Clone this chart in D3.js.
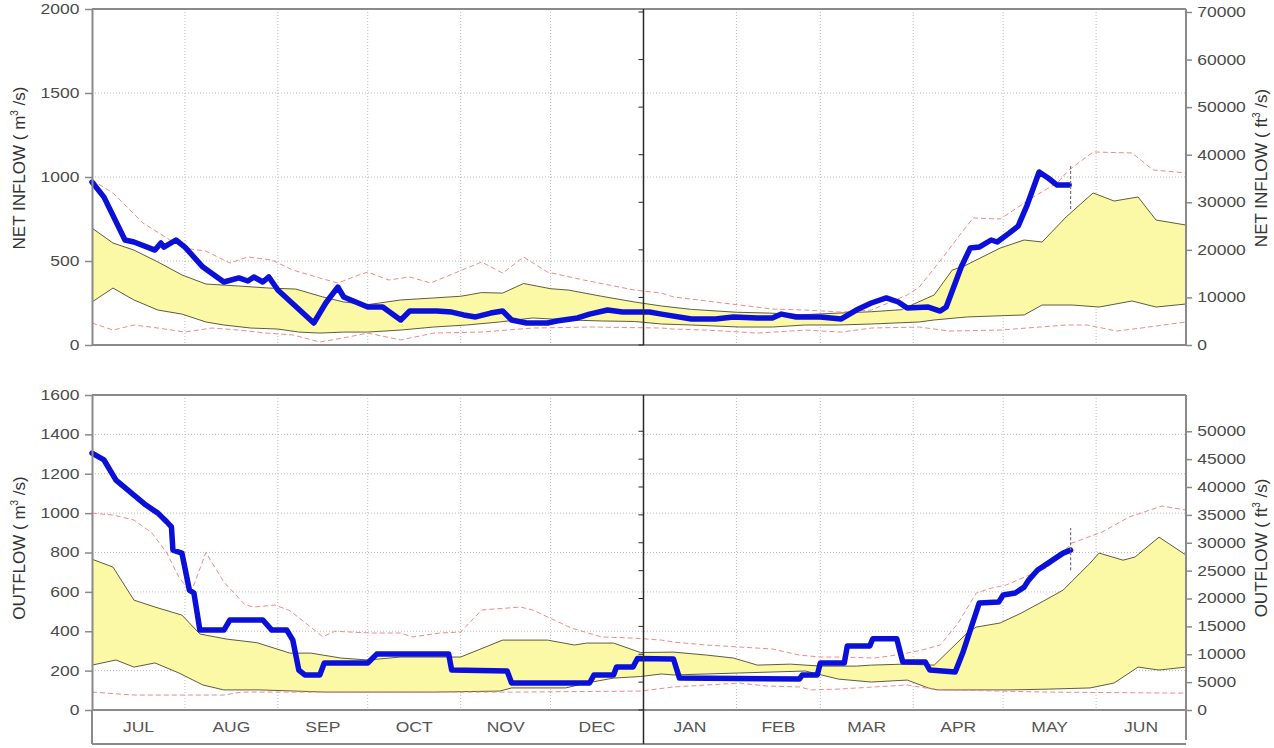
<!DOCTYPE html>
<html><head><meta charset="utf-8">
<script src="https://cdn.jsdelivr.net/npm/d3@7"></script>
<style>
body{margin:0;background:#fff;}
svg{display:block;font-family:"Liberation Sans",Arial,sans-serif;}
</style>
</head><body>
<svg id="c" width="1274" height="748"></svg>
<script>
// ---------- DATA (x = days since season start, 1 July) ----------
const seasonStartYear = 2022;
const monthLabels = ["JUL","AUG","SEP","OCT","NOV","DEC","JAN","FEB","MAR","APR","MAY","JUN"];
const todayDay = 326.5;
const m3ToFt3 = 35.3147;

const inflowTicksM3 = [0,500,1000,1500,2000];
const inflowTicksFt3 = [0,10000,20000,30000,40000,50000,60000,70000];
const outflowTicksM3 = [0,200,400,600,800,1000,1200,1400,1600];
const outflowTicksFt3 = [0,5000,10000,15000,20000,25000,30000,35000,40000,45000,50000];

// NET INFLOW (m3/s)
const inflowCurrent = [[0,970],[4,880],[11,625],[14,613],[21,565],[23,607],[24,583],[28,625],[31,583],[37,464],[44,375],[49,399],[52,381],[54,405],[57,375],[59,405],[62,327],[74,131],[78,250],[82,345],[84,286],[92,226],[97,226],[103,149],[106,202],[115,202],[120,196],[124,179],[128,167],[133,190],[137,202],[140,149],[145,131],[152,131],[155,143],[162,161],[166,184],[172,208],[177,196],[186,196],[190,184],[200,155],[208,155],[214,167],[222,161],[227,161],[230,184],[235,167],[243,167],[250,155],[255,208],[260,250],[265,280],[269,256],[272,220],[279,226],[283,202],[285,226],[290,464],[293,577],[296,583],[300,625],[302,613],[306,666],[309,708],[312,833],[316,1030],[319,994],[322,952],[326,952]];
const inflowBandUpper = [[0,696],[7,607],[14,565],[22,494],[30,417],[38,363],[49,351],[59,339],[68,333],[77,286],[84,256],[92,240],[103,268],[114,280],[123,290],[130,312],[137,309],[144,366],[153,335],[159,327],[170,290],[181,256],[190,232],[200,212],[215,195],[226,190],[237,180],[249,190],[260,198],[270,210],[281,298],[287,446],[291,470],[303,577],[311,625],[317,613],[325,762],[334,905],[341,857],[349,881],[355,744],[365,714]];
const inflowBandLower = [[0,256],[7,339],[14,268],[22,208],[30,184],[38,137],[44,119],[53,101],[62,95],[69,77],[76,71],[84,77],[92,77],[103,89],[114,107],[125,119],[136,137],[147,161],[159,149],[170,143],[181,140],[190,125],[200,119],[216,107],[227,107],[238,119],[249,119],[260,125],[276,137],[281,149],[292,167],[311,179],[317,238],[327,238],[336,226],[347,262],[355,226],[365,244]];
const inflowMax = [[0,982],[7,905],[17,726],[26,625],[33,571],[38,559],[46,488],[52,524],[60,506],[67,446],[76,399],[82,369],[89,417],[92,434],[99,387],[106,405],[113,369],[130,494],[137,428],[144,524],[152,434],[164,387],[181,327],[190,309],[194,286],[205,262],[216,238],[227,214],[238,208],[250,196],[260,208],[272,298],[276,345],[284,524],[290,666],[294,756],[303,750],[309,821],[314,881],[322,964],[326,1042],[334,1149],[347,1143],[354,1042],[365,1024]];
const inflowMin = [[0,131],[7,89],[14,119],[22,101],[31,77],[40,101],[49,89],[58,71],[67,60],[76,18],[84,42],[92,71],[103,30],[114,71],[130,77],[147,101],[167,107],[190,101],[194,95],[205,89],[222,71],[238,89],[250,77],[260,101],[276,107],[286,83],[303,89],[325,119],[332,119],[342,83],[350,101],[365,137]];

// OUTFLOW (m3/s)
const outflowCurrent = [[0,1305],[4,1270],[8,1168],[14,1092],[18,1041],[22,1000],[25,955],[26.5,930],[27,812],[30,797],[32.5,609],[34,594],[36,406],[44,406],[46,457],[57,457],[60,406],[65,406],[67,355],[69,203],[71,178],[76,178],[77.5,239],[92,239],[95,284],[119,284],[120,203],[138.5,198],[140,137],[166,137],[167.5,178],[174,178],[175,218],[180.5,218],[182,262],[194,259],[196,162],[236,157],[237,178],[242,178],[243,239],[251,239],[252,325],[259.5,325],[260.5,362],[268.5,362],[270.5,244],[278,244],[279.5,203],[288,193],[290.5,289],[296,543],[302.5,548],[304,584],[308,594],[311,624],[312.5,660],[315.5,711],[319,746],[324,797],[326.5,812]];
const outflowBandUpper = [[0,766],[7,726],[14,558],[21,523],[30,482],[36,386],[45,360],[55,342],[66,289],[73,289],[83,264],[92,254],[103,269],[123,269],[137,355],[152,355],[161,330],[165,340],[174,340],[183,292],[194,294],[205,279],[214,264],[222,228],[233,233],[243,223],[255,223],[260,228],[271,233],[281,228],[292,391],[295,421],[303,442],[310,492],[318,558],[324,609],[333,746],[336,797],[344,761],[348,777],[356,878],[365,787]];
const outflowBandLower = [[0,228],[8,254],[14,218],[21,239],[29,188],[37,127],[44,102],[56,102],[78,91],[114,91],[136,96],[140,112],[158,112],[165,137],[174,162],[183,170],[190,183],[194,178],[216,188],[227,193],[238,198],[249,157],[260,142],[272,152],[279,112],[282,102],[306,102],[319,106],[333,112],[341,137],[349,218],[356,203],[365,218]];
const outflowMax = [[0,1000],[7,990],[14,965],[20,899],[25,797],[29,675],[33,594],[38,800],[44,650],[51,535],[54,523],[61,533],[66,505],[71,445],[77,372],[81,400],[93,391],[103,391],[107,371],[116,391],[123,396],[130,508],[143,523],[147,508],[160,416],[170,371],[181,365],[190,355],[194,345],[205,330],[216,320],[227,310],[236,279],[243,269],[250,269],[261,264],[266,274],[272,289],[277,305],[283,330],[289,442],[295,594],[300,619],[305,635],[319,726],[327,848],[337,904],[346,980],[357,1036],[365,1016]];
const outflowMin = [[0,91],[14,76],[44,76],[50,91],[114,91],[140,91],[183,96],[194,117],[205,127],[216,137],[225,122],[236,117],[240,102],[250,107],[261,117],[272,127],[280,107],[285,102],[319,91],[360,86],[365,86]];

// ---------- CHART ----------
const svg = d3.select("#c");
const startMs = Date.UTC(seasonStartYear, 6, 1);
const toDate = d => new Date(startMs + d * 86400000);
const X0 = 92, X1 = 1186;
const x = d3.scaleUtc().domain([toDate(0), toDate(365)]).range([X0, X1]);
const monthStarts = d3.utcMonth.range(toDate(0), toDate(366));
const fmt = d3.format("d");
const STRETCH = "scale(1.25,1)";

const panels = [
  {top: 9, bottom: 345, max: 2000, ticks: inflowTicksM3, ftTicks: inflowTicksFt3,
   cur: inflowCurrent, up: inflowBandUpper, lo: inflowBandLower, mx: inflowMax, mn: inflowMin,
   labelL: "NET INFLOW ( m", labelR: "NET INFLOW ( ft", labelY: 168, todayRange: [810, 1075], strip: false},
  {top: 395, bottom: 710, max: 1600, ticks: outflowTicksM3, ftTicks: outflowTicksFt3,
   cur: outflowCurrent, up: outflowBandUpper, lo: outflowBandLower, mx: outflowMax, mn: outflowMin,
   labelL: "OUTFLOW ( m", labelR: "OUTFLOW ( ft", labelY: 548, todayRange: [710, 925], strip: true}
];

panels.forEach(p => {
  const y = d3.scaleLinear().domain([0, p.max]).range([p.bottom, p.top]);
  const yFt = d3.scaleLinear().domain([0, p.max * m3ToFt3]).range([p.bottom, p.top]);
  const g = svg.append("g");
  const line = d3.line().x(d => x(toDate(d[0]))).y(d => y(d[1]));

  // grid
  g.append("g").selectAll("line").data(p.ticks.filter(t => t > 0 && t < p.max)).join("line")
    .attr("x1", X0).attr("x2", X1).attr("y1", d => y(d)).attr("y2", d => y(d))
    .attr("stroke", "#bdbdbd").attr("stroke-width", 1).attr("stroke-dasharray", "1,2");
  g.append("g").selectAll("line").data(monthStarts.slice(1, -1)).join("line")
    .attr("x1", d => x(d)).attr("x2", d => x(d)).attr("y1", p.top).attr("y2", p.bottom)
    .attr("stroke", "#bdbdbd").attr("stroke-width", 1).attr("stroke-dasharray", "1,2");

  // band
  const bandPts = p.up.concat(p.lo.slice().reverse());
  g.append("path").attr("d", line(bandPts) + "Z").attr("fill", "#fbf8a6").attr("stroke", "none");
  [p.up, p.lo].forEach(s => g.append("path").attr("d", line(s)).attr("fill", "none")
    .attr("stroke", "#5d5d3e").attr("stroke-width", 1));
  // min / max
  [p.mx, p.mn].forEach(s => g.append("path").attr("d", line(s)).attr("fill", "none")
    .attr("stroke", "#f08a8a").attr("stroke-width", 1).attr("stroke-dasharray", "5,3"));
  // current
  g.append("path").attr("d", line(p.cur)).attr("fill", "none")
    .attr("stroke", "#0b10d8").attr("stroke-width", 5.5).attr("stroke-linejoin", "round").attr("stroke-linecap", "round");
  // today marker
  g.append("line").attr("x1", x(toDate(todayDay))).attr("x2", x(toDate(todayDay)))
    .attr("y1", y(p.todayRange[0])).attr("y2", y(p.todayRange[1]))
    .attr("stroke", "#7a6f90").attr("stroke-width", 1.2).attr("stroke-dasharray", "3,2");

  // frame
  const stripBottom = p.strip ? 744 : p.bottom;
  g.append("line").attr("x1", X0).attr("x2", X1).attr("y1", p.top).attr("y2", p.top).attr("stroke", "#8a8a8a").attr("stroke-width", 2);
  g.append("line").attr("x1", X0).attr("x2", X1).attr("y1", p.bottom).attr("y2", p.bottom).attr("stroke", "#8a8a8a").attr("stroke-width", 2);
  g.append("line").attr("x1", X1).attr("x2", X1).attr("y1", p.top).attr("y2", p.strip ? 740 : p.bottom).attr("stroke", "#8a8a8a").attr("stroke-width", 2);
  if (p.strip) {
    g.append("line").attr("x1", X0).attr("x2", X1).attr("y1", stripBottom).attr("y2", stripBottom).attr("stroke", "#8a8a8a").attr("stroke-width", 2);
  }
  // divider at 1 Jan with inward ft3 ticks
  const xJan = x(monthStarts[6]);
  g.append("line").attr("x1", xJan).attr("x2", xJan).attr("y1", p.top).attr("y2", stripBottom).attr("stroke", "#2a2a2a").attr("stroke-width", 1.5);
  g.append("g").selectAll("line").data(p.ftTicks).join("line")
    .attr("x1", xJan - 5).attr("x2", xJan).attr("y1", d => yFt(d)).attr("y2", d => yFt(d))
    .attr("stroke", "#2a2a2a").attr("stroke-width", 1);

  // left axis
  const axL = g.append("g").attr("transform", `translate(${X0},0)`)
    .call(d3.axisLeft(y).tickValues(p.ticks).tickFormat(fmt).tickSize(7).tickSizeOuter(0).tickPadding(3));
  axL.select(".domain").attr("stroke", "#8a8a8a").attr("stroke-width", 2);
  if (p.strip) axL.append("line").attr("x1", 0).attr("x2", 0).attr("y1", p.bottom).attr("y2", stripBottom).attr("stroke", "#8a8a8a").attr("stroke-width", 2);
  axL.selectAll(".tick line").attr("stroke", "#8a8a8a").attr("stroke-width", 1.5);
  axL.selectAll(".tick text").attr("font-size", 14).attr("fill", "#4a4a4a").attr("font-family", "Liberation Sans, Arial").attr("transform", STRETCH);

  // right axis (ft3/s)
  const axR = g.append("g").attr("transform", `translate(${X1},0)`)
    .call(d3.axisRight(yFt).tickValues(p.ftTicks).tickFormat(fmt).tickSize(6).tickSizeOuter(0).tickPadding(3));
  axR.select(".domain").remove();
  axR.selectAll(".tick line").attr("stroke", "#8a8a8a").attr("stroke-width", 1.5);
  axR.selectAll(".tick text").attr("font-size", 14).attr("fill", "#4a4a4a").attr("font-family", "Liberation Sans, Arial").attr("transform", STRETCH);

  // axis titles
  const addTitle = (tx, base) => {
    const t = svg.append("text").attr("transform", `translate(${tx},${p.labelY}) rotate(-90)`)
      .attr("text-anchor", "middle").attr("font-size", 17).attr("fill", "#333");
    t.append("tspan").text(base);
    t.append("tspan").attr("dy", -7).attr("font-size", 10).text("3");
    t.append("tspan").attr("dy", 7).text(" /s)");
  };
  addTitle(25, p.labelL);
  addTitle(1267, p.labelR);

  // month labels
  if (p.strip) {
    g.append("g").selectAll("text").data(monthLabels).join("text")
      .attr("transform", (d, i) => {
        const mid = (x(monthStarts[i]) + x(monthStarts[i + 1])) / 2;
        return `translate(${mid},732) ${STRETCH}`;
      })
      .attr("text-anchor", "middle").attr("font-size", 14).attr("fill", "#555").text(d => d);
  }
});
</script>
</body></html>
